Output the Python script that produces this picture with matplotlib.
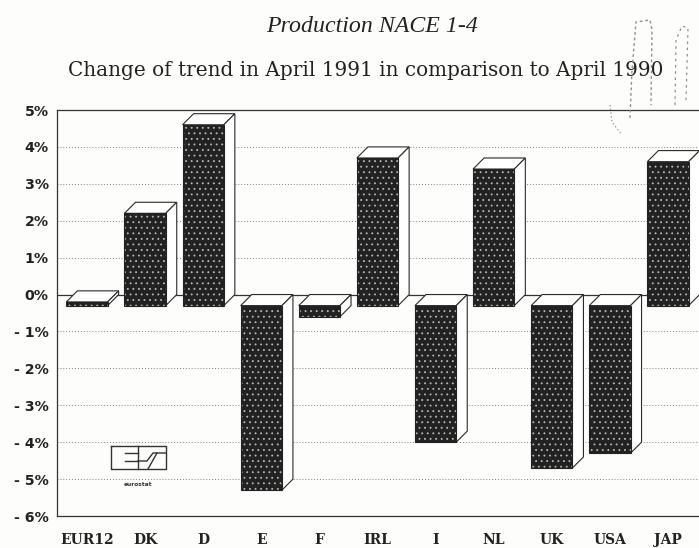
import matplotlib
matplotlib.use("Agg")
import matplotlib.pyplot as plt
from matplotlib.lines import Line2D
from matplotlib.patches import Polygon

categories = ["EUR12", "DK", "D", "E", "F", "IRL", "I", "NL", "UK", "USA", "JAP"]
values = [0.1, 2.5, 4.9, -5.0, -0.3, 4.0, -3.7, 3.7, -4.4, -4.0, 3.9]
y_ticks = [5, 4, 3, 2, 1, 0, -1, -2, -3, -4, -5, -6]
y_labels = ["5%", "4%", "3%", "2%", "1%", "0%", "- 1%", "- 2%", "- 3%", "- 4%", "- 5%", "- 6%"]
title = "Production NACE 1-4"
subtitle = "Change of trend in April 1991 in comparison to April 1990"

W, H = 699, 548
DARK = "#222222"
plt.rcParams["hatch.linewidth"] = 0.6
fig = plt.figure(figsize=(W / 100, H / 100), dpi=100, facecolor="#fdfdfc")
ax = fig.add_axes([57 / W, (H - 516) / H, 642 / W, 406 / H], facecolor="none")
ax.set_xlim(-0.516, 10.534)
ax.set_ylim(-6, 5)

for yv in y_ticks:
    if yv == 0:
        ax.axhline(yv, color="#333333", lw=0.9, zorder=1)
    elif yv not in (5, -6):
        ax.axhline(yv, color="#808080", lw=0.7, ls=(0, (1, 2)), zorder=1)

width = 0.71
dx, dy = 0.19, 0.30   # oblique depth of the 3-D bars
base = -dy
xs = list(range(len(categories)))

ax.bar(xs, values, width=width, bottom=base, color=DARK, edgecolor="#b8b8b8",
       hatch="...", linewidth=0, zorder=3)
ax.bar(xs, values, width=width, bottom=base, fill=False, edgecolor=DARK,
       linewidth=0.8, zorder=4)

for x, v in zip(xs, values):
    l, r = x - width / 2, x + width / 2
    front_top = max(base, base + v)
    front_bot = min(base, base + v)
    top = [(l, front_top), (r, front_top), (r + dx, front_top + dy), (l + dx, front_top + dy)]
    side = [(r, front_top), (r + dx, front_top + dy), (r + dx, front_bot + dy), (r, front_bot)]
    for pts in (top, side):
        ax.add_patch(Polygon(pts, closed=True, facecolor="white", edgecolor="#2a2a2a",
                             linewidth=0.8, zorder=2.5))

ax.spines["right"].set_visible(False)
for s in ("left", "top", "bottom"):
    ax.spines[s].set_color("#333333")
    ax.spines[s].set_linewidth(0.9)

ax.set_yticks(y_ticks)
ax.set_yticklabels(y_labels, fontfamily="DejaVu Sans", fontweight="bold", fontsize=10.2, color="#222222")
ax.set_xticks(xs)
ax.set_xticklabels(categories, fontfamily="DejaVu Serif", fontweight="bold", fontsize=10, color="#222222")
ax.tick_params(axis="both", length=0)
ax.tick_params(axis="y", pad=6)
ax.tick_params(axis="x", pad=12)

fig.text(372 / W, 1 - 27 / H, title, family="Liberation Serif", style="italic",
         fontsize=17.2, ha="center", va="center", color="#222222")
fig.text(366 / W, 1 - 70 / H, subtitle, family="DejaVu Serif", fontsize=14.4,
         ha="center", va="center", color="#222222")


def px_line(xs_px, ys_px, color="#333333", lw=1.0, **kw):
    fig.add_artist(Line2D([a / W for a in xs_px], [1 - b / H for b in ys_px],
                          transform=fig.transFigure, color=color, lw=lw, zorder=6, **kw))


# eurostat logo
px_line([111, 166, 166, 111, 111], [446, 446, 469, 469, 446])
px_line([138, 138], [446, 469])
px_line([125, 138], [453, 453])
px_line([125, 138], [461, 461])
px_line([138, 147, 153, 166], [461, 461, 453, 453])
px_line([148, 157], [469, 453])
fig.text(138 / W, 1 - 484 / H, "eurostat", family="DejaVu Sans", fontweight="bold",
         fontsize=4.2, ha="center", va="center", color="#333333")

# scan marks at top right
stain = "#8f8f8f"
px_line([630, 632, 636, 650, 652, 651], [118, 70, 22, 20, 30, 105], color=stain, lw=1.0, ls=(0, (2, 2)))
px_line([675, 676, 682, 688, 686], [105, 40, 26, 28, 100], color=stain, lw=0.9, ls=(0, (2, 3)))
px_line([610, 612, 622], [105, 122, 135], color=stain, lw=0.9, ls=(0, (1, 2)))

fig.savefig("out.png", dpi=100, facecolor=fig.get_facecolor())
